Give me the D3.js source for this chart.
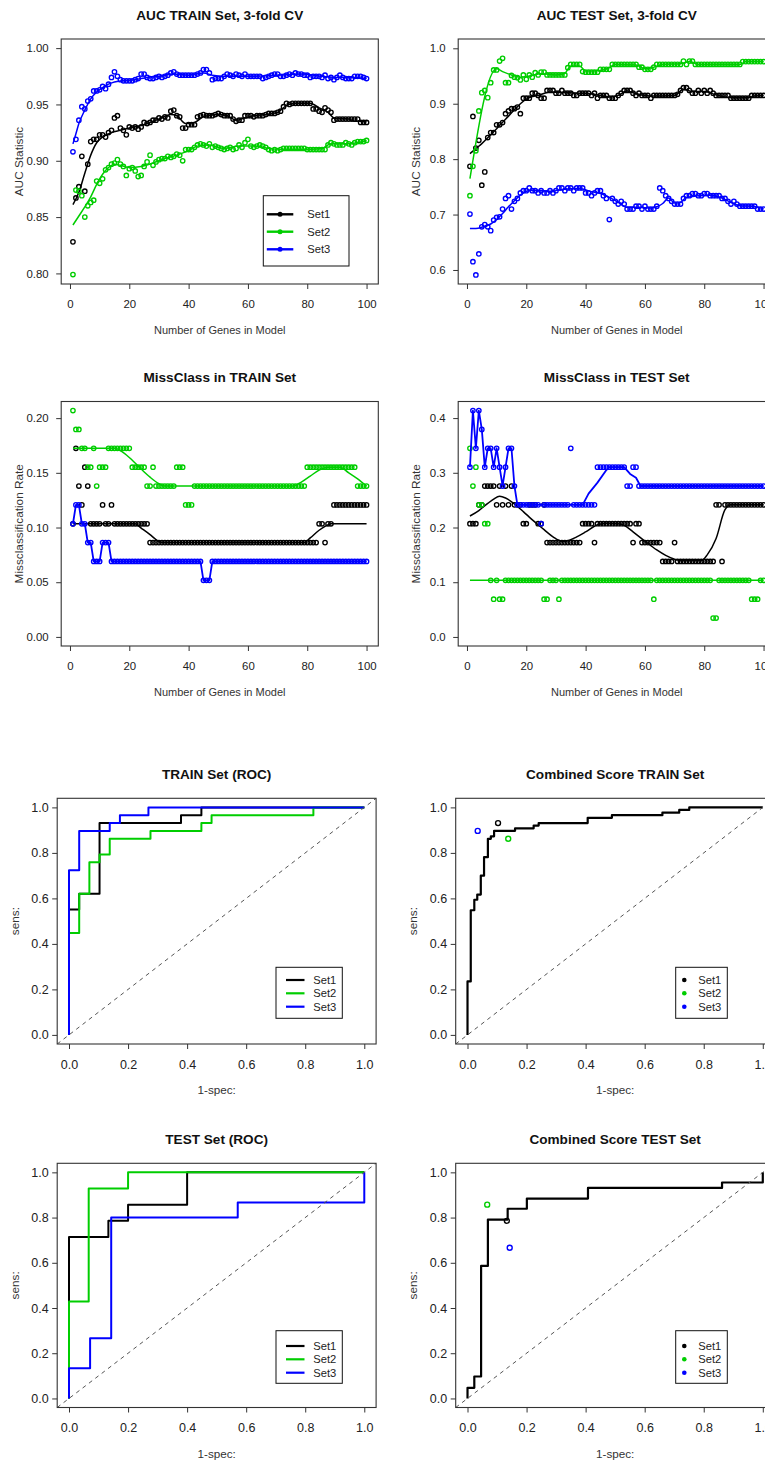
<!DOCTYPE html>
<html><head><meta charset="utf-8">
<script src="https://cdn.jsdelivr.net/npm/d3@7"></script>
<style>
html,body{margin:0;padding:0;background:#fff;}
svg{display:block;font-family:"Liberation Sans",Arial,Helvetica,sans-serif;}
</style></head><body>
<svg id="fig" width="765" height="1464"></svg>
<script>
// ---------- categories ----------
const genes = d3.range(1, 101);              // number of genes in model
const setNames = ["Set1", "Set2", "Set3"];
const setColors = ["#000000", "#00cd00", "#0000ff"];
const geneTicks = [0, 20, 40, 60, 80, 100];
const rocTicks = [0, 0.2, 0.4, 0.6, 0.8, 1.0];
const aucTrainTicks = [0.80, 0.85, 0.90, 0.95, 1.00];
const aucTestTicks = [0.6, 0.7, 0.8, 0.9, 1.0];
const missTrainTicks = [0, 0.05, 0.10, 0.15, 0.20];
const missTestTicks = [0, 0.1, 0.2, 0.3, 0.4];
const nTrain = 58, nTest = 29;

// ---------- AUC, training set (3-fold CV) ----------
const aucTrainSet1 = [0.828,0.867,0.877,0.904,0.873,0.897,0.917,0.919,0.919,0.923,
 0.923,0.921,0.925,0.927,0.938,0.940,0.929,0.927,0.923,0.930,
 0.929,0.930,0.928,0.930,0.934,0.933,0.934,0.936,0.936,0.938,
 0.937,0.939,0.938,0.944,0.945,0.940,0.939,0.929,0.929,0.932,
 0.932,0.932,0.939,0.940,0.941,0.940,0.940,0.940,0.941,0.942,
 0.941,0.940,0.940,0.940,0.937,0.935,0.936,0.936,0.940,0.940,
 0.940,0.939,0.940,0.940,0.940,0.941,0.942,0.942,0.942,0.943,
 0.944,0.948,0.951,0.950,0.951,0.951,0.951,0.951,0.951,0.951,
 0.951,0.946,0.946,0.944,0.943,0.947,0.945,0.943,0.936,0.937,
 0.937,0.937,0.937,0.937,0.937,0.937,0.937,0.934,0.934,0.934];
const aucTrainSet2 = [0.799,0.874,0.873,0.869,0.850,0.860,0.863,0.865,0.882,0.880,
 0.884,0.892,0.894,0.897,0.898,0.901,0.897,0.895,0.887,0.893,
 0.894,0.891,0.886,0.887,0.895,0.899,0.905,0.896,0.899,0.901,
 0.902,0.902,0.904,0.903,0.904,0.906,0.905,0.900,0.910,0.910,
 0.910,0.912,0.914,0.915,0.914,0.913,0.915,0.912,0.913,0.912,
 0.911,0.910,0.911,0.912,0.910,0.911,0.914,0.912,0.916,0.919,
 0.913,0.912,0.913,0.914,0.913,0.912,0.910,0.909,0.910,0.909,
 0.910,0.911,0.911,0.911,0.911,0.911,0.911,0.911,0.911,0.910,
 0.910,0.910,0.910,0.910,0.910,0.910,0.914,0.916,0.915,0.914,
 0.914,0.914,0.916,0.915,0.914,0.916,0.917,0.917,0.917,0.918];
const aucTrainSet3 = [0.908,0.919,0.936,0.948,0.946,0.953,0.955,0.962,0.962,0.963,
 0.966,0.964,0.968,0.974,0.979,0.975,0.972,0.971,0.971,0.971,
 0.971,0.972,0.973,0.977,0.977,0.974,0.973,0.973,0.974,0.975,
 0.974,0.975,0.976,0.978,0.979,0.977,0.976,0.976,0.976,0.976,
 0.976,0.976,0.977,0.978,0.981,0.981,0.978,0.972,0.973,0.973,
 0.973,0.975,0.977,0.976,0.975,0.977,0.976,0.975,0.977,0.975,
 0.975,0.975,0.975,0.975,0.973,0.974,0.975,0.976,0.977,0.977,
 0.975,0.975,0.976,0.977,0.976,0.978,0.977,0.977,0.976,0.976,
 0.974,0.975,0.975,0.975,0.974,0.976,0.973,0.974,0.972,0.974,
 0.976,0.974,0.973,0.973,0.973,0.975,0.975,0.975,0.974,0.973];
const aucTrainSmooth1 = [[1,0.861],[3,0.872],[5,0.889],[7,0.905],[9,0.916],[11,0.921],[14,0.925],[17,0.927],[20,0.929],[25,0.932],[30,0.937],[34,0.941],[36,0.940],[39,0.933],[42,0.934],[45,0.939],[50,0.941],[53,0.940],[56,0.936],[59,0.938],[62,0.940],[66,0.941],[70,0.943],[73,0.949],[76,0.951],[81,0.951],[84,0.947],[87,0.943],[89,0.938],[94,0.937],[96,0.935],[100,0.935]];
const aucTrainSmooth2 = [[1,0.843],[3,0.851],[5,0.859],[7,0.868],[9,0.879],[11,0.888],[13,0.894],[15,0.897],[17,0.896],[20,0.894],[24,0.895],[28,0.898],[32,0.902],[36,0.905],[40,0.909],[43,0.913],[47,0.914],[52,0.911],[57,0.913],[62,0.913],[67,0.911],[72,0.910],[80,0.910],[85,0.911],[88,0.915],[93,0.915],[97,0.916],[100,0.918]];
const aucTrainSmooth3 = [[1,0.915],[2,0.924],[3,0.933],[5,0.945],[7,0.955],[9,0.961],[11,0.965],[13,0.968],[15,0.970],[18,0.971],[22,0.972],[26,0.974],[30,0.975],[35,0.977],[40,0.976],[45,0.978],[48,0.976],[52,0.975],[60,0.975],[70,0.976],[78,0.977],[85,0.975],[90,0.974],[95,0.974],[100,0.973]];

// ---------- AUC, test set ----------
const aucTestSet1 = [0.787,0.877,0.820,0.834,0.753,0.777,0.839,0.848,0.848,0.862,
 0.862,0.866,0.882,0.887,0.891,0.891,0.894,0.882,0.910,0.910,
 0.910,0.919,0.919,0.915,0.910,0.910,0.924,0.924,0.924,0.919,
 0.919,0.924,0.919,0.919,0.919,0.915,0.915,0.919,0.919,0.919,
 0.919,0.915,0.919,0.910,0.915,0.915,0.915,0.910,0.910,0.910,
 0.915,0.919,0.924,0.924,0.924,0.919,0.915,0.919,0.915,0.915,
 0.915,0.910,0.915,0.915,0.915,0.915,0.915,0.915,0.915,0.915,
 0.917,0.924,0.929,0.929,0.924,0.919,0.919,0.924,0.919,0.924,
 0.919,0.924,0.919,0.915,0.915,0.915,0.915,0.915,0.910,0.910,
 0.910,0.910,0.910,0.910,0.910,0.915,0.915,0.915,0.915,0.915];
const aucTestSet2 = [0.734,0.787,0.815,0.887,0.920,0.924,0.911,0.938,0.961,0.961,
 0.977,0.982,0.938,0.938,0.951,0.948,0.947,0.943,0.952,0.944,
 0.952,0.948,0.956,0.952,0.957,0.957,0.952,0.952,0.952,0.952,
 0.952,0.952,0.952,0.965,0.971,0.971,0.971,0.971,0.958,0.957,
 0.957,0.957,0.957,0.957,0.962,0.962,0.962,0.962,0.971,0.971,
 0.971,0.971,0.971,0.971,0.971,0.971,0.971,0.966,0.966,0.962,
 0.962,0.962,0.966,0.971,0.971,0.971,0.971,0.971,0.971,0.971,
 0.971,0.971,0.977,0.971,0.977,0.977,0.971,0.971,0.971,0.971,
 0.971,0.971,0.971,0.971,0.971,0.971,0.971,0.971,0.971,0.971,
 0.971,0.971,0.976,0.976,0.976,0.976,0.976,0.976,0.976,0.976];
const aucTestSet3 = [0.701,0.615,0.591,0.629,0.678,0.682,0.678,0.671,0.690,0.695,
 0.696,0.710,0.729,0.734,0.710,0.724,0.729,0.739,0.743,0.743,
 0.748,0.743,0.743,0.739,0.743,0.739,0.739,0.743,0.739,0.743,
 0.748,0.748,0.743,0.748,0.748,0.743,0.748,0.748,0.748,0.739,
 0.739,0.734,0.739,0.743,0.743,0.734,0.729,0.691,0.729,0.724,
 0.719,0.724,0.719,0.710,0.710,0.710,0.715,0.715,0.710,0.715,
 0.710,0.710,0.710,0.715,0.748,0.743,0.734,0.729,0.724,0.719,
 0.719,0.719,0.729,0.734,0.734,0.738,0.738,0.734,0.734,0.738,
 0.738,0.734,0.734,0.734,0.734,0.729,0.729,0.724,0.719,0.724,
 0.719,0.715,0.715,0.715,0.715,0.715,0.715,0.710,0.710,0.710];
const aucTestSmooth1 = [[1,0.810],[3,0.819],[5,0.828],[8,0.844],[10,0.855],[13,0.872],[16,0.889],[18,0.900],[21,0.911],[24,0.915],[28,0.921],[33,0.920],[38,0.919],[43,0.917],[48,0.912],[51,0.915],[54,0.923],[57,0.918],[62,0.914],[70,0.915],[73,0.926],[76,0.922],[80,0.922],[84,0.916],[89,0.911],[95,0.911],[97,0.914],[100,0.915]];
const aucTestSmooth2 = [[1,0.765],[10,0.963],[12,0.958],[15,0.952],[18,0.948],[21,0.950],[25,0.954],[30,0.952],[33,0.955],[35,0.968],[38,0.968],[40,0.959],[45,0.960],[48,0.965],[50,0.971],[57,0.970],[60,0.963],[63,0.966],[66,0.971],[72,0.972],[75,0.976],[78,0.971],[92,0.971],[94,0.976],[100,0.976]];
const aucTestSmooth3 = [[1,0.675],[3,0.675],[5,0.677],[8,0.683],[10,0.691],[12,0.702],[14,0.714],[16,0.725],[18,0.735],[20,0.742],[23,0.744],[28,0.742],[32,0.745],[36,0.747],[39,0.746],[42,0.741],[45,0.738],[48,0.731],[51,0.722],[54,0.713],[58,0.713],[62,0.712],[64,0.714],[66,0.720],[68,0.730],[70,0.721],[72,0.722],[74,0.731],[78,0.734],[82,0.735],[86,0.730],[89,0.722],[92,0.716],[96,0.715],[100,0.711]];

// ---------- misclassified samples (counts), training set of 58 ----------
const missTrainSet1 = [6,10,8,7,9,8,6,6,6,6, 7,6,6,7,6,6,6,6,6,6, 6,6,6,6,6,6,5,5,5,5,
 5,5,5,5,5,5,5,5,5,5, 5,5,5,5,5,5,5,5,5,5, 5,5,5,5,5,5,5,5,5,5,
 5,5,5,5,5,5,5,5,5,5, 5,5,5,5,5,5,5,5,5,5, 5,5,5,6,6,5,6,6,7,7, 7,7,7,7,7,7,7,7,7,7];
const missTrainSet2 = [12,11,11,10,10,9,9,10,8,9, 9,9,10,10,10,10,10,10,10,10, 9,9,9,9,9,8,8,9,8,8,
 8,8,8,8,8,9,9,9,7,7, 7,8,8,8,8,8,8,8,8,8, 8,8,8,8,8,8,8,8,8,8,
 8,8,8,8,8,8,8,8,8,8, 8,8,8,8,8,8,8,8,8,9, 9,9,9,9,9,9,9,9,9,9, 9,9,9,9,9,9,8,8,8,8];
const missTrainSet3 = [6,7,7,6,6,5,5,4,4,4, 5,5,5,4,4,4,4,4,4,4, 4,4,4,4,4,4,4,4,4,4,
 4,4,4,4,4,4,4,4,4,4, 4,4,4,4,3,3,3,4,4,4, 4,4,4,4,4,4,4,4,4,4,
 4,4,4,4,4,4,4,4,4,4, 4,4,4,4,4,4,4,4,4,4, 4,4,4,4,4,4,4,4,4,4, 4,4,4,4,4,4,4,4,4,4];
const missTrainSmooth1 = [[1,0.1034],[22,0.1034],[24,0.0995],[27,0.0935],[29,0.0890],[31,0.0862],[79,0.0862],[81,0.0905],[84,0.0975],[86,0.1010],[88,0.1034],[100,0.1034]];
const missTrainSmooth2 = [[1,0.1724],[15,0.1724],[18,0.1685],[21,0.1615],[24,0.1535],[27,0.1460],[30,0.1400],[32,0.1379],[75,0.1379],[78,0.1415],[81,0.1470],[84,0.1525],[87,0.1552],[91,0.1552],[94,0.1500],[97,0.1445],[100,0.1379]];

// ---------- misclassified samples (counts), test set of 29 ----------
const missTestSet1 = [6,6,6,7,7,8,8,8,8,7, 8,7,8,7,8,7,7,7,6,6, 7,7,7,6,6,7,5,5,5,5,
 5,5,5,5,5,5,5,5,6,6, 6,6,5,6,6,6,6,6,6,6, 6,6,6,6,6,5,6,6,5,5,
 5,5,5,5,5,4,4,4,4,5, 4,4,4,4,4,4,4,4,4,4, 4,4,4,7,7,4,7,7,7,7, 7,7,7,7,7,7,7,7,7,7];
const missTestSet2 = [10,8,9,7,7,6,6,3,2,3, 2,2,3,3,3,3,3,3,3,3, 3,3,3,3,3,2,2,3,3,3,
 2,3,3,3,3,3,3,3,3,3, 3,3,3,3,3,3,3,3,3,3, 3,3,3,3,3,3,3,3,3,3,
 3,3,2,3,3,3,3,3,3,3, 3,3,3,3,3,3,3,3,3,3, 3,3,1,1,3,3,3,3,3,3, 3,3,3,3,3,2,2,2,3,3];
const missTestSet3 = [9,12,10,12,11,9,10,10,9,10, 9,8,9,10,10,8,7,7,7,7, 7,7,7,7,6,7,7,7,7,7,
 7,7,7,7,10,7,7,7,7,7, 7,7,7,9,9,9,9,9,9,9, 9,9,9,8,8,9,9,8,8,8,
 8,8,8,8,8,8,8,8,8,8, 8,8,8,8,8,8,8,8,8,8, 8,8,8,8,8,8,8,8,8,8, 8,8,8,8,8,8,8,8,8,8];
const missTestSmooth1 = [[1,0.221],[4,0.231],[7,0.244],[9,0.252],[11,0.257],[13,0.254],[16,0.243],[19,0.229],[21,0.219],[24,0.205],[26,0.196],[29,0.183],[32,0.175],[34,0.176],[37,0.183],[40,0.192],[44,0.205],[47,0.208],[51,0.207],[53,0.204],[56,0.192],[60,0.175],[64,0.159],[67,0.149],[70,0.142],[72,0.1395],[79,0.1395],[81,0.150],[84,0.180],[87,0.2325],[89,0.2414],[100,0.2414]];
const missTestSmooth2 = [[1,0.1034],[100,0.1034]];
const missTestSmooth3 = [[1,0.3103],[2,0.4138],[3,0.3448],[4,0.4138],[5,0.3793],[6,0.3103],[7,0.3448],[8,0.3448],[9,0.3103],[10,0.3448],[11,0.3103],[12,0.2759],[13,0.3103],[14,0.3448],[15,0.3448],[16,0.2759],[17,0.2414],[39,0.2414],[41,0.262],[44,0.282],[47,0.305],[48,0.3103],[53,0.3103],[55,0.298],[57,0.291],[58.5,0.2759],[100,0.2759]];

// ---------- ROC curves (vertices: 1-specificity, sensitivity) ----------
const trainRocFpr1 = [0, 0, 0.0345, 0.1034, 0.3793, 0.4483, 1];
const trainRocTpr1 = [0, 0.5517, 0.6207, 0.9310, 0.9655, 1, 1];
const trainRocFpr2 = [0, 0, 0.0345, 0.0690, 0.1034, 0.1379, 0.2759, 0.4483, 0.4828, 0.8276, 1];
const trainRocTpr2 = [0, 0.4483, 0.6207, 0.7586, 0.7931, 0.8621, 0.8966, 0.9310, 0.9655, 1, 1];
const trainRocFpr3 = [0, 0, 0.0345, 0.1379, 0.1724, 0.2690, 1];
const trainRocTpr3 = [0, 0.7241, 0.8966, 0.9310, 0.9655, 1, 1];

const testRocFpr1 = [0, 0, 0.1333, 0.2, 0.4, 1];
const testRocTpr1 = [0, 0.7143, 0.7857, 0.8571, 1, 1];
const testRocFpr2 = [0, 0, 0.0667, 0.2, 1];
const testRocTpr2 = [0, 0.4286, 0.9286, 1, 1];
const testRocFpr3 = [0, 0, 0.0714, 0.1429, 0.5714, 1];
const testRocTpr3 = [0, 0.1333, 0.2667, 0.8, 0.8667, 1];

// combined score ROC and single-set operating points
const comboTrainFpr = [0, 0, 0.011, 0.023, 0.033, 0.045, 0.056, 0.069, 0.079, 0.090, 0.161, 0.224, 0.241, 0.407, 0.489, 0.660, 0.717, 0.751, 1];
const comboTrainTpr = [0, 0.235, 0.548, 0.594, 0.617, 0.700, 0.781, 0.862, 0.873, 0.897, 0.908, 0.920, 0.931, 0.954, 0.966, 0.977, 0.989, 1, 1];
const comboTrainPtFpr = [0.1034, 0.1379, 0.0345];
const comboTrainPtTpr = [0.9310, 0.8621, 0.8966];

const comboTestFpr = [0, 0, 0.023, 0.046, 0.069, 0.136, 0.201, 0.408, 0.862, 1];
const comboTestTpr = [0, 0.047, 0.097, 0.586, 0.791, 0.839, 0.884, 0.931, 0.955, 1];
const comboTestPtFpr = [0.1333, 0.0667, 0.1429];
const comboTestPtTpr = [0.7857, 0.8571, 0.6667];

// ---------- drawing ----------
const svg = d3.select("#fig");
svg.append("rect").attr("width", 765).attr("height", 1464).attr("fill", "#fff");
const FONT = '"Liberation Sans", Arial, Helvetica, sans-serif';
let clipId = 0;

function makePanel(opt) {
  const b = opt.box;
  const x = d3.scaleLinear().domain(opt.xDomain).range([b.left, b.right]);
  const y = d3.scaleLinear().domain(opt.yDomain).range([b.bottom, b.top]);
  const g = svg.append("g");
  const id = "clip" + (clipId++);
  g.append("clipPath").attr("id", id).append("rect")
    .attr("x", b.left).attr("y", b.top)
    .attr("width", b.right - b.left).attr("height", b.bottom - b.top);
  const plot = g.append("g").attr("clip-path", `url(#${id})`);
  return { x, y, g, plot, opt };
}

function finishPanel(p) {
  const { x, y, g, opt } = p;
  const b = opt.box;
  const tfs = opt.tickFont;
  // bottom axis
  const ax = g.append("g").attr("transform", `translate(0,${b.bottom})`)
    .call(d3.axisBottom(x).tickValues(opt.xTicks).tickFormat(opt.xFmt)
      .tickSize(5).tickPadding(opt.xPad).tickSizeOuter(0));
  // left axis
  const ay = g.append("g").attr("transform", `translate(${b.left},0)`)
    .call(d3.axisLeft(y).tickValues(opt.yTicks).tickFormat(opt.yFmt)
      .tickSize(5).tickPadding(opt.yPad).tickSizeOuter(0));
  [ax, ay].forEach(a => {
    a.select(".domain").remove();
    a.attr("font-family", FONT).attr("font-size", tfs);
    a.selectAll("line").attr("stroke", "#333").attr("stroke-width", 1);
    a.selectAll("text").attr("fill", "#222");
  });
  // plot box
  g.append("rect").attr("x", b.left).attr("y", b.top)
    .attr("width", b.right - b.left).attr("height", b.bottom - b.top)
    .attr("fill", "none").attr("stroke", "#333").attr("stroke-width", 1.1);
  // title
  g.append("text").attr("x", (b.left + b.right) / 2).attr("y", b.top - 19.5)
    .attr("text-anchor", "middle").attr("font-weight", "bold")
    .attr("font-size", opt.titleFont || 13.6).attr("fill", "#111").text(opt.title);
  // x label
  g.append("text").attr("x", (b.left + b.right) / 2).attr("y", b.bottom + 50)
    .attr("text-anchor", "middle").attr("font-size", opt.xLabFont).attr("fill", "#333").text(opt.xLabel);
  // y label
  const ly = (b.top + b.bottom) / 2, lx = b.left - 42.5;
  g.append("text").attr("transform", `translate(${lx},${ly}) rotate(-90)`)
    .attr("text-anchor", "middle").attr("dominant-baseline", "central")
    .attr("font-size", 11.8).attr("fill", "#333").text(opt.yLabel);
}

function drawPoints(p, xs, ys, color, r) {
  p.plot.append("g").selectAll("circle").data(xs.map((d, i) => [d, ys[i]])).join("circle")
    .attr("cx", d => p.x(d[0])).attr("cy", d => p.y(d[1])).attr("r", r || 2.2)
    .attr("fill", "none").attr("stroke", color).attr("stroke-width", 1.35);
}
function drawLine(p, pts, color, width, curve) {
  p.plot.append("path").datum(pts)
    .attr("d", d3.line().x(d => p.x(d[0])).y(d => p.y(d[1])).curve(curve || d3.curveLinear))
    .attr("fill", "none").attr("stroke", color).attr("stroke-width", width)
    .attr("stroke-linejoin", "round");
}
function drawDiagonal(p) {
  p.plot.append("line")
    .attr("x1", p.x(-0.04)).attr("y1", p.y(-0.04)).attr("x2", p.x(1.04)).attr("y2", p.y(1.04))
    .attr("stroke", "#555").attr("stroke-width", 1).attr("stroke-dasharray", "4,4");
}
function drawLegend(p, rect, kind, rows) {
  const g = p.g.append("g");
  g.append("rect").attr("x", rect.x).attr("y", rect.y).attr("width", rect.w).attr("height", rect.h)
    .attr("fill", "#fff").attr("stroke", "#111").attr("stroke-width", 1);
  setNames.forEach((name, i) => {
    const yy = rect.y + rows[i];
    if (kind === "linepoint" || kind === "line") {
      const l0 = kind === "line" ? rect.x + 10 : rect.x + 3.5;
      const l1 = kind === "line" ? rect.x + 28.5 : rect.x + 30;
      g.append("line").attr("x1", l0).attr("x2", l1).attr("y1", yy).attr("y2", yy)
        .attr("stroke", setColors[i]).attr("stroke-width", kind === "line" ? 2.2 : 2.4);
      if (kind === "linepoint")
        g.append("circle").attr("cx", (l0 + l1) / 2).attr("cy", yy).attr("r", 2.5).attr("fill", setColors[i]);
    } else {
      g.append("circle").attr("cx", rect.x + 8.6).attr("cy", yy).attr("r", 2.3).attr("fill", setColors[i]);
    }
    const tx = kind === "linepoint" ? rect.x + 44 : (kind === "line" ? rect.x + 37.3 : rect.x + 22.6);
    g.append("text").attr("x", tx).attr("y", yy).attr("dominant-baseline", "central")
      .attr("font-size", 11.2).attr("fill", "#222").text(name);
  });
}

const geneDomain = [-2.96, 103.96];
const rocDomain = [-0.04, 1.04];
const common = { xTicks: geneTicks, xFmt: d3.format("d"), xPad: 11.3, yPad: 7.5, tickFont: 11.4, xLabFont: 11, xLabel: "Number of Genes in Model" };
const rocCommon = { xDomain: rocDomain, yDomain: rocDomain, xTicks: rocTicks, yTicks: rocTicks, xFmt: d3.format(".1f"), yFmt: d3.format(".1f"), xPad: 11, yPad: 3.5, tickFont: 12.5, xLabFont: 11.7, xLabel: "1-spec:", yLabel: "sens:" };

// Panel: AUC TRAIN
{
  const p = makePanel(Object.assign({}, common, {
    box: { left: 61.2, right: 378.3, top: 39, bottom: 284 },
    xDomain: geneDomain, yDomain: [0.7906, 1.0081],
    yTicks: aucTrainTicks, yFmt: d3.format(".2f"),
    title: "AUC TRAIN Set, 3-fold CV", yLabel: "AUC Statistic" }));
  [[aucTrainSet1, aucTrainSmooth1], [aucTrainSet2, aucTrainSmooth2], [aucTrainSet3, aucTrainSmooth3]].forEach(([v, s], i) => {
    drawPoints(p, genes, v, setColors[i]);
    drawLine(p, s, setColors[i], 1.5, d3.curveMonotoneX);
  });
  finishPanel(p);
  drawLegend(p, { x: 263.3, y: 195.7, w: 85.7, h: 70.3 }, "linepoint", [18.6, 36, 53.6]);
}
// Panel: AUC TEST
{
  const p = makePanel(Object.assign({}, common, {
    box: { left: 458.2, right: 775.3, top: 39, bottom: 284 },
    xDomain: geneDomain, yDomain: [0.5747, 1.0168],
    yTicks: aucTestTicks, yFmt: d3.format(".1f"),
    title: "AUC TEST Set, 3-fold CV", yLabel: "AUC Statistic" }));
  [[aucTestSet1, aucTestSmooth1], [aucTestSet2, aucTestSmooth2], [aucTestSet3, aucTestSmooth3]].forEach(([v, s], i) => {
    drawPoints(p, genes, v, setColors[i]);
    drawLine(p, s, setColors[i], 1.5, d3.curveMonotoneX);
  });
  finishPanel(p);
}
// Panel: MissClass TRAIN
{
  const p = makePanel(Object.assign({}, common, {
    box: { left: 61.2, right: 378.3, top: 401.5, bottom: 646 },
    xDomain: geneDomain, yDomain: [-0.0083, 0.2152],
    yTicks: missTrainTicks, yFmt: d3.format(".2f"),
    title: "MissClass in TRAIN Set", yLabel: "Missclassification Rate" }));
  const r1 = missTrainSet1.map(k => k / nTrain), r2 = missTrainSet2.map(k => k / nTrain), r3 = missTrainSet3.map(k => k / nTrain);
  drawPoints(p, genes, r1, setColors[0]);
  drawLine(p, missTrainSmooth1, setColors[0], 1.5, d3.curveMonotoneX);
  drawPoints(p, genes, r2, setColors[1]);
  drawLine(p, missTrainSmooth2, setColors[1], 1.5, d3.curveMonotoneX);
  drawPoints(p, genes, r3, setColors[2]);
  drawLine(p, genes.map((g, i) => [g, r3[i]]), setColors[2], 1.8);
  finishPanel(p);
}
// Panel: MissClass TEST
{
  const p = makePanel(Object.assign({}, common, {
    box: { left: 458.2, right: 775.3, top: 401.5, bottom: 646 },
    xDomain: geneDomain, yDomain: [-0.01655, 0.4303],
    yTicks: missTestTicks, yFmt: d3.format(".1f"),
    title: "MissClass in TEST Set", yLabel: "Missclassification Rate" }));
  [[missTestSet1, missTestSmooth1], [missTestSet2, missTestSmooth2], [missTestSet3, missTestSmooth3]].forEach(([v, s], i) => {
    drawPoints(p, genes, v.map(k => k / nTest), setColors[i]);
    drawLine(p, s, setColors[i], i === 2 ? 1.8 : 1.5, i === 2 ? d3.curveLinear : d3.curveMonotoneX);
  });
  finishPanel(p);
}
// Panel: TRAIN ROC
{
  const p = makePanel(Object.assign({}, rocCommon, {
    box: { left: 57.2, right: 376.1, top: 798.3, bottom: 1044 }, title: "TRAIN Set (ROC)" }));
  [[trainRocFpr1, trainRocTpr1], [trainRocFpr2, trainRocTpr2], [trainRocFpr3, trainRocTpr3]].forEach(([f, t], i) => {
    drawLine(p, f.map((d, j) => [d, t[j]]), setColors[i], 2, d3.curveStepAfter);
  });
  drawDiagonal(p);
  finishPanel(p);
  drawLegend(p, { x: 276, y: 967.3, w: 66.3, h: 51 }, "line", [12.7, 26, 39.4]);
}
// Panel: Combined Score TRAIN
{
  const p = makePanel(Object.assign({}, rocCommon, {
    box: { left: 455.7, right: 774.6, top: 798.3, bottom: 1044 }, title: "Combined Score TRAIN Set" }));
  drawLine(p, comboTrainFpr.map((d, j) => [d, comboTrainTpr[j]]), "#000", 2.2, d3.curveStepAfter);
  comboTrainPtFpr.forEach((f, i) => drawPoints(p, [f], [comboTrainPtTpr[i]], setColors[i], 2.5));
  drawDiagonal(p);
  finishPanel(p);
  drawLegend(p, { x: 675.7, y: 967.3, w: 51.6, h: 51 }, "point", [12.7, 26, 39.4]);
}
// Panel: TEST ROC
{
  const p = makePanel(Object.assign({}, rocCommon, {
    box: { left: 57.2, right: 376.1, top: 1163.3, bottom: 1407.5 }, title: "TEST Set (ROC)" }));
  [[testRocFpr1, testRocTpr1], [testRocFpr2, testRocTpr2], [testRocFpr3, testRocTpr3]].forEach(([f, t], i) => {
    drawLine(p, f.map((d, j) => [d, t[j]]), setColors[i], 2, d3.curveStepAfter);
  });
  drawDiagonal(p);
  finishPanel(p);
  drawLegend(p, { x: 276, y: 1330.7, w: 66.3, h: 52.6 }, "line", [15.3, 28.6, 42]);
}
// Panel: Combined Score TEST
{
  const p = makePanel(Object.assign({}, rocCommon, {
    box: { left: 455.7, right: 774.6, top: 1163.3, bottom: 1407.5 }, title: "Combined Score TEST Set" }));
  drawLine(p, comboTestFpr.map((d, j) => [d, comboTestTpr[j]]), "#000", 2.2, d3.curveStepAfter);
  comboTestPtFpr.forEach((f, i) => drawPoints(p, [f], [comboTestPtTpr[i]], setColors[i], 2.5));
  drawDiagonal(p);
  finishPanel(p);
  drawLegend(p, { x: 675.7, y: 1330.7, w: 51.6, h: 52.6 }, "point", [15.3, 28.6, 42]);
}
</script>
</body></html>
